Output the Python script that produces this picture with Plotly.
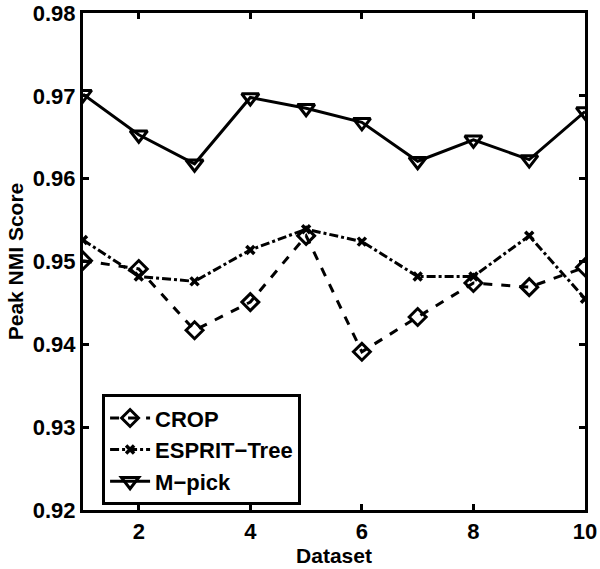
import plotly.graph_objects as go

datasets = [1, 2, 3, 4, 5, 6, 7, 8, 9, 10]
crop = [0.9501, 0.9491, 0.9417, 0.9451, 0.9531, 0.9391, 0.9433, 0.9474, 0.9469, 0.9493]
esprit = [0.9526, 0.9482, 0.9476, 0.9514, 0.9539, 0.9524, 0.9482, 0.9482, 0.9531, 0.9455]
mpick = [0.9702, 0.9653, 0.9618, 0.9698, 0.9685, 0.9668, 0.9621, 0.9647, 0.9623, 0.9681]

x_ticks = [2, 4, 6, 8, 10]
y_ticks = [0.92, 0.93, 0.94, 0.95, 0.96, 0.97, 0.98]

font_family = "Liberation Sans, Arial, sans-serif"

fig = go.Figure()
fig.add_trace(go.Scatter(
    x=datasets, y=crop, name="CROP", mode="lines+markers",
    line=dict(color="black", width=3, dash="dash"),
    marker=dict(symbol="diamond-open", size=13, color="black", line=dict(width=3, color="black")),
))
fig.add_trace(go.Scatter(
    x=datasets, y=esprit, name="ESPRIT\u2212Tree", mode="lines+markers",
    line=dict(color="black", width=3, dash="dashdot"),
    marker=dict(symbol="x-thin", size=8, color="black", line=dict(width=3.5, color="black")),
))
fig.add_trace(go.Scatter(
    x=datasets, y=mpick, name="M\u2212pick", mode="lines+markers",
    line=dict(color="black", width=3),
    marker=dict(symbol="triangle-down-open", size=15, color="black", line=dict(width=3, color="black")),
))

axis_common = dict(
    showline=True, linecolor="black", linewidth=3, mirror="ticks",
    ticks="inside", ticklen=6, tickwidth=3, tickcolor="black",
    showgrid=False, zeroline=False, ticklabeloverflow="allow", automargin=False,
    tickfont=dict(family=font_family, size=22, color="black", weight="bold"),
)

fig.update_layout(
    width=600, height=569,
    margin=dict(l=83, r=15, t=13, b=59),
    paper_bgcolor="white", plot_bgcolor="white",
    xaxis=dict(range=[1, 10], tickvals=x_ticks,
               title=dict(text="Dataset", standoff=2,
                          font=dict(family=font_family, size=21, color="black", weight="bold")),
               **axis_common),
    yaxis=dict(range=[0.92, 0.98], tickvals=y_ticks, tickformat=".2f",
               title=dict(text="Peak NMI Score", standoff=4,
                          font=dict(family=font_family, size=21, color="black", weight="bold")),
               **axis_common),
    legend=dict(
        x=0.038, y=0.233, xanchor="left", yanchor="top",
        bgcolor="white", bordercolor="black", borderwidth=3,
        font=dict(family=font_family, size=22, color="black", weight="bold"),
        tracegroupgap=0, itemwidth=40,
    ),
    showlegend=True,
)

fig.write_html("out.html", config={"displayModeBar": False},
               post_script="document.body.style.margin='0';")
